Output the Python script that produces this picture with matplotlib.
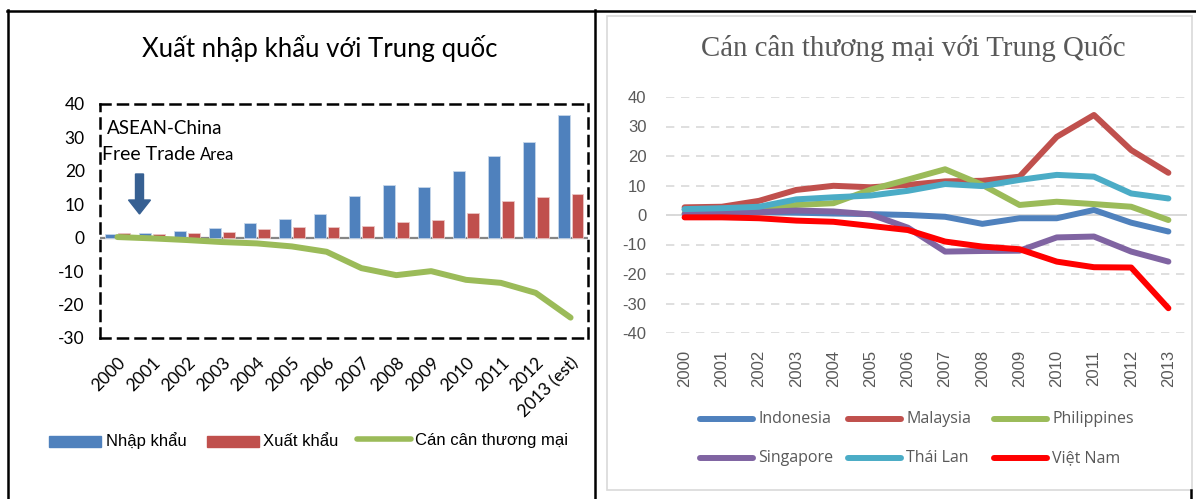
import matplotlib
matplotlib.use("Agg")
import matplotlib.pyplot as plt
from matplotlib.lines import Line2D
from matplotlib.patches import Rectangle, FancyArrow

# ---- data: ASEAN trade with China (billion USD) ----
years_left = ["2000", "2001", "2002", "2003", "2004", "2005", "2006", "2007",
              "2008", "2009", "2010", "2011", "2012", "2013 (est)"]
imports = [1.2, 1.4, 2.0, 3.0, 4.4, 5.7, 7.2, 12.4, 15.7, 15.1, 20.0, 24.3, 28.6, 36.8]
exports = [1.4, 1.2, 1.3, 1.7, 2.7, 3.1, 3.1, 3.4, 4.6, 5.2, 7.5, 10.9, 12.1, 13.0]
balance = [0.2, -0.2, -0.7, -1.3, -1.7, -2.6, -4.2, -9.1, -11.2, -10.0, -12.6, -13.5, -16.5, -23.9]

years_right = ["2000", "2001", "2002", "2003", "2004", "2005", "2006",
               "2007", "2008", "2009", "2010", "2011", "2012", "2013"]
indonesia = [1.8, 1.5, 1.0, 0.8, 0.5, 0.3, 0.0, -0.6, -3.0, -1.1, -1.1, 1.7, -2.6, -5.6]
malaysia = [2.6, 2.8, 4.8, 8.5, 9.9, 9.4, 10.2, 11.4, 11.6, 13.0, 26.5, 33.9, 22.0, 14.3]
philippines = [0.5, 1.0, 1.5, 3.4, 4.0, 8.6, 12.0, 15.5, 10.2, 3.4, 4.5, 3.7, 2.8, -1.7]
singapore = [0.3, 0.5, 1.0, 1.5, 1.2, 0.2, -4.3, -12.4, -12.2, -12.1, -7.6, -7.3, -12.4, -15.8]
thailand = [2.0, 2.3, 2.8, 5.3, 6.0, 6.6, 8.2, 10.5, 9.8, 11.9, 13.6, 13.0, 7.3, 5.6]
vietnam = [-0.8, -0.8, -1.1, -1.9, -2.3, -3.7, -5.1, -9.0, -10.7, -11.6, -15.8, -17.7, -17.8, -31.6]

W, H = 1196, 499
fig = plt.figure(figsize=(W / 100, H / 100), dpi=100)
fig.patch.set_facecolor("white")


def px_axes(x0, y0, x1, y1):
    """Axes placed by pixel box (top-left origin)."""
    return fig.add_axes([x0 / W, 1 - y1 / H, (x1 - x0) / W, (y1 - y0) / H])


def fx(x):
    return x / W


def fy(y):
    return 1 - y / H


# ---- page frame lines ----
for (xa, ya, xb, yb) in [(8, 10, 8, 499), (7, 11, 1196, 11), (595, 10, 595, 499),
                         (1191, 490, 1191, 499)]:
    fig.add_artist(Line2D([fx(xa), fx(xb)], [fy(ya), fy(yb)], color="black", lw=1.8))

# right chart frame
fig.add_artist(Rectangle((fx(607), fy(490)), fx(1192) - fx(607), fy(16) - fy(490),
                         fill=False, edgecolor="#D9D9D9", lw=1.2))

# ================= left chart =================
BLUE, RED, GREEN = "#4F81BD", "#C0504D", "#9BBB59"
FONT_L = ["Lato", "DejaVu Sans"]

ax = px_axes(100, 104, 588, 338)
xs = range(len(years_left))
ax.bar([i - 0.2 for i in xs], imports, width=0.34, color=BLUE, edgecolor="#C6D6EA",
       lw=0.6, zorder=3)
ax.bar([i + 0.2 for i in xs], exports, width=0.34, color=RED, edgecolor="#EAC6C5",
       lw=0.6, zorder=3)
ax.plot(list(xs), balance, color=GREEN, lw=4.3, solid_capstyle="round",
        solid_joinstyle="round", zorder=4)
ax.axhline(0, color="#868686", lw=1.6, zorder=2)
ax.set_xlim(-0.5, len(years_left) - 0.5)
ax.set_ylim(-30, 40)
ax.set_yticks(range(-30, 41, 10))
ax.set_yticklabels([str(v) for v in range(-30, 41, 10)], family=FONT_L, fontsize=12.5)
ax.tick_params(axis="y", length=0, pad=11)
ax.set_xticks(list(xs))
ax.set_xticklabels(years_left, rotation=45, ha="right", rotation_mode="anchor",
                   family=FONT_L, fontsize=12.5)
ax.tick_params(axis="x", length=0, pad=12)
for s in ax.spines.values():
    s.set_linestyle((0, (4, 3)))
    s.set_linewidth(1.8)
    s.set_color("black")

fig.text(fx(320), fy(48), "Xuất nhập khẩu với Trung quốc", family=FONT_L, fontsize=18.5,
         ha="center", va="center")
fig.text(fx(107), fy(128), "ASEAN-China", family=FONT_L, fontsize=13.5, ha="left", va="center")
t_ft = fig.text(fx(102), fy(154), "Free Trade", family=FONT_L, fontsize=14, ha="left",
                va="center")
renderer = fig.canvas.get_renderer()
bb = t_ft.get_window_extent(renderer=renderer)
fig.text(bb.x1 / W + fx(5), fy(155), "Area", family=FONT_L, fontsize=12, ha="left",
         va="center")

# arrow pointing at the start of the agreement
fig.add_artist(FancyArrow(fx(139.5), fy(174), 0, fy(214) - fy(174), width=fx(8),
                          head_width=fx(22), head_length=(fy(200) - fy(214)),
                          length_includes_head=True, color="#376092", transform=fig.transFigure))

# legend of left chart
LEG_FONT = ["Liberation Sans", "DejaVu Sans"]
legend_items = [("rect", BLUE, 49, 101, "Nhập khẩu", 106),
                ("rect", RED, 207, 259, "Xuất khẩu", 263),
                ("line", GREEN, 355, 413, "Cán cân thương mại", 415)]
for kind, col, xa, xb, label, xt in legend_items:
    if kind == "rect":
        fig.add_artist(Rectangle((fx(xa), fy(447)), fx(xb) - fx(xa), fy(436) - fy(447),
                                 color=col))
    else:
        fig.add_artist(Line2D([fx(xa + 2), fx(xb - 2)], [fy(438.5), fy(438.5)], color=col,
                              lw=4, solid_capstyle="round"))
    fig.text(fx(xt), fy(441), label, family=LEG_FONT, fontsize=12, ha="left", va="center")

# ================= right chart =================
GRAY_TXT = "#595959"
FONT_R = ["Open Sans", "DejaVu Sans"]
series = [("Indonesia", indonesia, "#4F81BD"), ("Malaysia", malaysia, "#C0504D"),
          ("Philippines", philippines, "#9BBB59"), ("Singapore", singapore, "#8064A2"),
          ("Thái Lan", thailand, "#4BACC6"), ("Việt Nam", vietnam, "#FF0000")]

ax2 = px_axes(666, 97, 1187, 333)
xr = range(len(years_right))
for name, vals, col in series:
    ax2.plot(list(xr), vals, color=col, lw=4.3, solid_capstyle="round",
             solid_joinstyle="round", zorder=3)
ax2.set_xlim(-0.5, len(years_right) - 0.5)
ax2.set_ylim(-40, 40)
ax2.set_yticks(range(-40, 41, 10))
ax2.set_yticklabels([str(v) for v in range(-40, 41, 10)], family=["Liberation Sans"],
                    fontsize=12, color=GRAY_TXT)
ax2.grid(axis="y", color="#D9D9D9", lw=1.2, linestyle=(0, (5, 4)))
ax2.axhline(0, color="#D9D9D9", lw=1.4, zorder=1)
ax2.tick_params(axis="y", length=0, pad=14)
ax2.set_xticks(list(xr))
ax2.set_xticklabels(years_right, rotation=90, family=["Liberation Sans"], fontsize=12,
                    color=GRAY_TXT, va="top", ha="center")
ax2.tick_params(axis="x", length=0, pad=12)
for s in ax2.spines.values():
    s.set_visible(False)
ax2.set_axisbelow(True)

fig.text(fx(913), fy(48), "Cán cân thương mại với Trung Quốc", family=["Liberation Serif"],
         fontsize=20.8, color=GRAY_TXT, ha="center", va="center")

leg_cols = [698, 846, 992]
leg_rows = [419, 458]
for k, (name, vals, col) in enumerate(series):
    xa = leg_cols[k % 3]
    yy = leg_rows[k // 3]
    fig.add_artist(Line2D([fx(xa + 2), fx(xa + 55)], [fy(yy), fy(yy)], color=col, lw=4.3,
                          solid_capstyle="round"))
    fig.text(fx(xa + 60), fy(yy), name, family=FONT_R, fontsize=11.5, color=GRAY_TXT,
             ha="left", va="center")

fig.savefig("out.png", dpi=100)
